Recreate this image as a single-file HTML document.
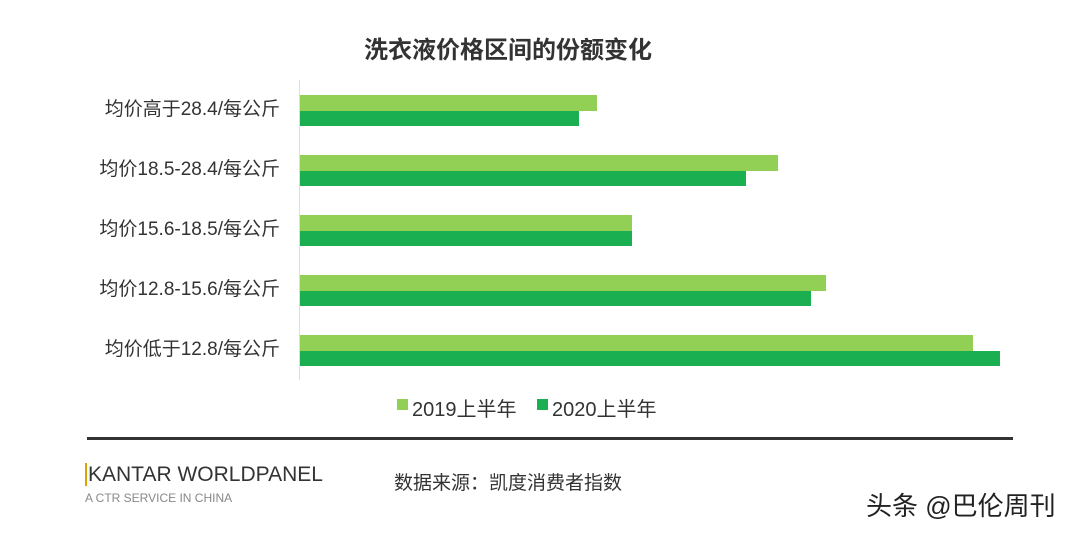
<!DOCTYPE html>
<html><head><meta charset="utf-8"><style>
body{margin:0;width:1080px;height:533px;background:#fff;position:relative;overflow:hidden;font-family:"Liberation Sans","Noto Sans CJK SC",sans-serif;color:#333}
.a{position:absolute;white-space:nowrap}
.l{position:absolute;right:800px;font-size:19px;color:#333;line-height:20px}
.b{position:absolute;left:300px;height:16px}
.c1{background:#92cf55}.c2{background:#1aaf50}
</style></head><body>
<div class="a" style="left:0;width:1016px;text-align:center;top:30px;font-size:24px;font-weight:bold;color:#333">洗衣液价格区间的份额变化</div>
<div class="a" style="left:299px;top:80px;width:1px;height:300px;background:#ddd"></div>
<div class="l" style="top:100px">均价高于28.4/每公斤</div>
<div class="l" style="top:160px">均价18.5-28.4/每公斤</div>
<div class="l" style="top:220px">均价15.6-18.5/每公斤</div>
<div class="l" style="top:280px">均价12.8-15.6/每公斤</div>
<div class="l" style="top:340px">均价低于12.8/每公斤</div>
<div class="b c1" style="top:95px;width:297px"></div><div class="b c2" style="top:111px;width:279px;height:15px"></div>
<div class="b c1" style="top:155px;width:478px"></div><div class="b c2" style="top:171px;width:446px;height:15px"></div>
<div class="b c1" style="top:215px;width:332px"></div><div class="b c2" style="top:231px;width:332px;height:15px"></div>
<div class="b c1" style="top:275px;width:526px"></div><div class="b c2" style="top:291px;width:511px;height:15px"></div>
<div class="b c1" style="top:335px;width:673px"></div><div class="b c2" style="top:351px;width:700px;height:15px"></div>
<div class="a" style="left:397px;top:399px;width:11px;height:11px;background:#92cf55"></div>
<div class="a" style="left:412px;top:393px;font-size:20px">2019上半年</div>
<div class="a" style="left:537px;top:399px;width:11px;height:11px;background:#1aaf50"></div>
<div class="a" style="left:552px;top:393px;font-size:20px">2020上半年</div>
<div class="a" style="left:87px;top:437px;width:926px;height:3px;background:#333"></div>
<div class="a" style="left:85px;top:463px;font-size:21px;color:#333"><span style="border-left:2px solid #e0a000;margin-right:1px"></span>KANTAR WORLDPANEL</div>
<div class="a" style="left:85px;top:491px;font-size:12px;color:#888">A CTR SERVICE IN CHINA</div>
<div class="a" style="left:394px;top:468px;font-size:19px;color:#333">数据来源：凯度消费者指数</div>
<div class="a" style="left:866px;top:486px;font-size:26px;color:#222">头条 @巴伦周刊</div>
</body></html>
